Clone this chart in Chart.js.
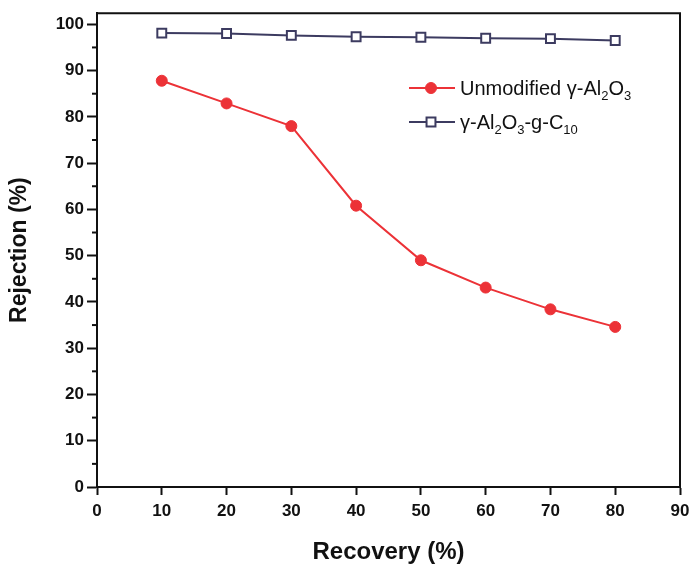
<!DOCTYPE html>
<html>
<head>
<meta charset="utf-8">
<script src="https://cdn.jsdelivr.net/npm/chart.js@4.4.1/dist/chart.umd.min.js"></script>
<style>
  html, body { margin: 0; padding: 0; background: #ffffff; }
  #wrap { width: 692px; height: 567px; position: relative; }
</style>
</head>
<body>
<div id="wrap"><canvas id="c" width="692" height="567"></canvas></div>
<script>
// ---- data ----
const recovery = [10, 20, 30, 40, 50, 60, 70, 80];
const unmodified = [87.8, 82.9, 78.0, 60.8, 49.0, 43.1, 38.4, 34.6];
const grafted = [98.1, 98.0, 97.6, 97.3, 97.2, 97.0, 96.9, 96.5];
// "_" marks a subscript run of digits
const seriesNames = ['Unmodified γ-Al_2O_3', 'γ-Al_2O_3-g-C_10'];
const xTickValues = [0, 10, 20, 30, 40, 50, 60, 70, 80, 90];
const yTickValues = [0, 10, 20, 30, 40, 50, 60, 70, 80, 90, 100];
const yMinorTicks = [5, 15, 25, 35, 45, 55, 65, 75, 85, 95];
const xTitle = 'Recovery (%)';
const yTitle = 'Rejection (%)';

const RED = '#ec3237';
const NAVY = '#3c3b60';
const INK = '#111111';

function parseSub(str) {
  const parts = [];
  const re = /_(\d+)/g;
  let last = 0, m;
  while ((m = re.exec(str)) !== null) {
    if (m.index > last) parts.push({ t: str.slice(last, m.index), sub: false });
    parts.push({ t: m[1], sub: true });
    last = re.lastIndex;
  }
  if (last < str.length) parts.push({ t: str.slice(last), sub: false });
  return parts;
}

const boxPlugin = {
  id: 'boxAndMinor',
  afterDraw(chart) {
    const { ctx, chartArea: a, scales } = chart;
    ctx.save();
    ctx.strokeStyle = INK;
    ctx.lineWidth = 2;
    ctx.beginPath();
    ctx.moveTo(a.left, a.top);
    ctx.lineTo(a.right, a.top);
    ctx.lineTo(a.right, a.bottom);
    ctx.stroke();
    yMinorTicks.forEach(v => {
      const y = scales.y.getPixelForValue(v);
      ctx.beginPath();
      ctx.moveTo(a.left - 5, y);
      ctx.lineTo(a.left, y);
      ctx.stroke();
    });
    ctx.restore();
  }
};

const legendPlugin = {
  id: 'subLegend',
  afterDraw(chart) {
    const { ctx } = chart;
    const rows = [88, 122];
    chart.data.datasets.forEach((ds, i) => {
      const y = rows[i];
      const x1 = 409, x2 = 455, xm = 431, xt = 460;
      ctx.save();
      ctx.strokeStyle = ds.borderColor;
      ctx.lineWidth = 2;
      ctx.beginPath();
      ctx.moveTo(x1, y);
      ctx.lineTo(x2, y);
      ctx.stroke();
      ctx.fillStyle = ds.pointBackgroundColor;
      ctx.strokeStyle = ds.pointBorderColor;
      ctx.lineWidth = ds.pointBorderWidth;
      ctx.beginPath();
      if (ds.pointStyle === 'circle') {
        ctx.arc(xm, y, ds.pointRadius, 0, Math.PI * 2);
      } else {
        const s = ds.pointRadius / Math.SQRT2;
        ctx.rect(xm - s, y - s, 2 * s, 2 * s);
      }
      ctx.fill();
      ctx.stroke();
      let x = xt;
      ctx.fillStyle = INK;
      ctx.textBaseline = 'alphabetic';
      ctx.textAlign = 'left';
      const base = y + 7;
      parseSub(ds.label).forEach(p => {
        ctx.font = p.sub ? '13px "Liberation Sans", Arial, sans-serif' : '20px "Liberation Sans", Arial, sans-serif';
        ctx.fillText(p.t, x, p.sub ? base + 4.5 : base);
        x += ctx.measureText(p.t).width;
      });
      ctx.restore();
    });
  }
};

const tickFont = { family: '"Liberation Sans", Arial, sans-serif', size: 17, weight: 'bold' };
const xTitleFont = { family: '"Liberation Sans", Arial, sans-serif', size: 24, weight: 'bold' };
const yTitleFont = { family: '"Liberation Sans", Arial, sans-serif', size: 23, weight: 'bold' };

new Chart(document.getElementById('c'), {
  type: 'line',
  data: {
    datasets: [
      {
        label: seriesNames[0],
        data: recovery.map((x, i) => ({ x, y: unmodified[i] })),
        borderColor: RED,
        backgroundColor: RED,
        borderWidth: 2,
        pointStyle: 'circle',
        pointRadius: 5.5,
        pointBackgroundColor: RED,
        pointBorderColor: RED,
        pointBorderWidth: 1,
        tension: 0
      },
      {
        label: seriesNames[1],
        data: recovery.map((x, i) => ({ x, y: grafted[i] })),
        borderColor: NAVY,
        backgroundColor: '#ffffff',
        borderWidth: 2,
        pointStyle: 'rect',
        pointRadius: 6.3,
        pointBackgroundColor: '#ffffff',
        pointBorderColor: NAVY,
        pointBorderWidth: 2,
        tension: 0
      }
    ]
  },
  options: {
    responsive: false,
    animation: false,
    devicePixelRatio: 1,
    layout: { padding: { top: 13, right: 12, left: 0, bottom: 0 } },
    plugins: { legend: { display: false }, tooltip: { enabled: false } },
    scales: {
      x: {
        type: 'linear',
        min: 0, max: 90,
        afterBuildTicks: s => { s.ticks = xTickValues.map(v => ({ value: v })); },
        afterFit: s => { s.height = 80; s.paddingRight = 10; s.paddingLeft = 0; },
        ticks: { font: tickFont, color: INK, padding: 6, maxRotation: 0 },
        grid: { drawOnChartArea: false, tickLength: 8, tickWidth: 2, tickColor: INK },
        border: { color: INK, width: 2 },
        title: { display: true, text: xTitle, font: xTitleFont, color: INK, padding: { top: 0, bottom: 0 } }
      },
      y: {
        type: 'linear',
        min: 0, max: 102.4,
        afterBuildTicks: s => { s.ticks = yTickValues.map(v => ({ value: v })); },
        afterFit: s => { s.width = 97; },
        ticks: { font: tickFont, color: INK, padding: 3 },
        grid: { drawOnChartArea: false, tickLength: 10, tickWidth: 2, tickColor: INK },
        border: { color: INK, width: 2 },
        title: { display: true, text: yTitle, font: yTitleFont, color: INK, padding: { top: 6, bottom: 0 } }
      }
    }
  },
  plugins: [boxPlugin, legendPlugin]
});
</script>
</body>
</html>
